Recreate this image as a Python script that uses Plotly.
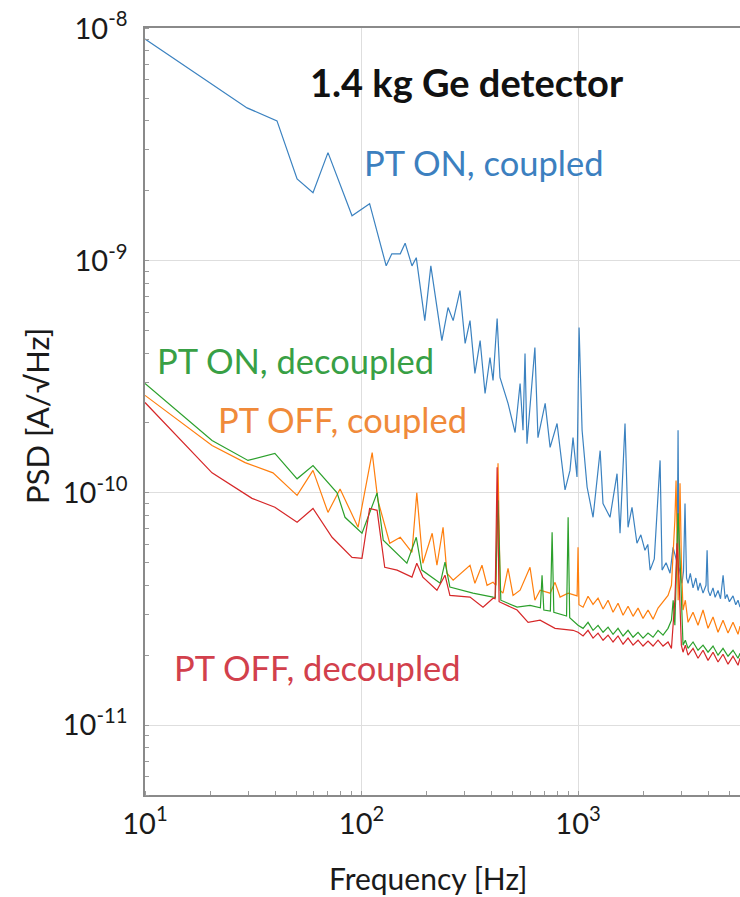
import plotly.graph_objects as go

# ---------------- data ----------------
blue_f = [10, 29.6, 40.7, 50.4, 59.7, 70.0, 90.4, 109, 130, 138, 151, 159, 171, 179, 196, 209,
          235, 251, 265, 285, 301, 317, 334, 353, 372, 392, 405, 423, 436, 475, 512, 540, 557,
          569, 581, 632, 653, 705, 743, 800, 871, 918, 948, 989, 1011, 1044, 1101, 1173, 1265,
          1304, 1405, 1514, 1563, 1648, 1702, 1775, 1871, 1950, 2037, 2100, 2152, 2250, 2393,
          2444, 2550, 2660, 2747, 2870, 2897, 2925, 3021, 3070, 3119, 3170, 3222, 3300, 3397,
          3500, 3582, 3661, 3778, 3900, 3945, 3990, 4074, 4200, 4297, 4431, 4550, 4677, 4780,
          4876, 5000, 5197, 5350, 5481, 5598]
blue_v = [9.0e-9, 4.55e-9, 4.0e-9, 2.25e-9, 1.96e-9, 2.92e-9, 1.56e-9, 1.76e-9, 9.5e-10, 1.07e-9,
          1.07e-9, 1.19e-9, 9.5e-10, 1.03e-9, 5.52e-10, 9.5e-10, 4.53e-10, 6.28e-10, 5.52e-10,
          7.43e-10, 4.40e-10, 5.52e-10, 3.27e-10, 4.53e-10, 2.68e-10, 3.83e-10, 3.05e-10, 5.63e-10,
          3.14e-10, 2.43e-10, 1.82e-10, 2.96e-10, 1.86e-10, 3.98e-10, 1.63e-10, 4.23e-10, 1.73e-10,
          2.43e-10, 1.57e-10, 1.99e-10, 1.03e-10, 1.25e-10, 1.73e-10, 1.17e-10, 5.15e-10, 1.86e-10,
          1.06e-10, 7.85e-11, 1.52e-10, 9.0e-11, 7.85e-11, 1.21e-10, 6.70e-11, 1.99e-10, 7.11e-11,
          8.67e-11, 6.07e-11, 6.6e-11, 5.66e-11, 6.0e-11, 4.65e-11, 5.2e-11, 1.38e-10, 4.65e-11,
          5.0e-11, 4.51e-11, 5.83e-11, 5.0e-11, 1.86e-10, 4.8e-11, 4.08e-11, 4.6e-11, 9.0e-11,
          4.3e-11, 4.08e-11, 4.5e-11, 3.9e-11, 4.3e-11, 3.8e-11, 4.1e-11, 3.7e-11, 4.0e-11,
          5.66e-11, 3.8e-11, 3.6e-11, 3.9e-11, 3.55e-11, 3.8e-11, 3.5e-11, 4.42e-11, 3.5e-11,
          3.65e-11, 3.4e-11, 3.6e-11, 3.3e-11, 3.45e-11, 3.22e-11]

green_f = [10, 20.4, 29.9, 39.8, 50.4, 59.7, 77.1, 83.9, 100.5, 118, 126, 162, 179, 190, 231,
           243, 256, 294, 327, 405, 415, 427, 440, 523, 600, 670, 682, 695, 745, 759, 773, 885,
           900, 915, 1000, 1055, 1112, 1173, 1237, 1305, 1376, 1451, 1530, 1614, 1702, 1795,
           1893, 1996, 2105, 2220, 2341, 2469, 2604, 2700, 2750, 2800, 2897, 2960, 3054, 3130,
           3221, 3397, 3582, 3778, 3984, 4202, 4431, 4673, 4928, 5197, 5481, 5600]
green_v = [2.96e-10, 1.68e-10, 1.38e-10, 1.48e-10, 1.15e-10, 1.31e-10, 1.0e-10, 7.85e-11, 6.70e-11,
           1.0e-10, 6.25e-11, 4.98e-11, 6.44e-11, 4.65e-11, 4.08e-11, 5.03e-11, 3.93e-11, 3.81e-11,
           3.70e-11, 3.56e-11, 3.55e-11, 9.29e-11, 3.45e-11, 3.22e-11, 3.28e-11, 3.2e-11, 4.42e-11,
           3.13e-11, 3.1e-11, 6.76e-11, 3.06e-11, 2.95e-11, 7.85e-11, 2.9e-11, 2.69e-11, 2.61e-11,
           2.77e-11, 2.56e-11, 2.69e-11, 2.51e-11, 2.64e-11, 2.46e-11, 2.61e-11, 2.42e-11, 2.56e-11,
           2.39e-11, 2.51e-11, 2.37e-11, 2.49e-11, 2.39e-11, 2.56e-11, 2.44e-11, 2.61e-11, 2.83e-11,
           3.45e-11, 2.69e-11, 8.17e-11, 5.13e-11, 2.21e-11, 2.32e-11, 2.14e-11, 2.28e-11, 2.10e-11,
           2.21e-11, 2.06e-11, 2.19e-11, 2.00e-11, 2.14e-11, 1.98e-11, 2.10e-11, 1.94e-11, 2.04e-11]

orange_f = [10, 20.4, 29.0, 39.0, 50.4, 59.7, 70.0, 79.6, 96.4, 112, 119, 135, 151, 171, 180, 192,
            212, 223, 238, 248, 265, 317, 334, 360, 380, 405, 418, 427, 437, 450, 475, 501, 540,
            600, 632, 668, 743, 783, 826, 900, 990, 1000, 1010, 1055, 1112, 1173, 1237, 1305, 1376,
            1451, 1530, 1614, 1702, 1795, 1893, 1996, 2105, 2220, 2341, 2469, 2604, 2700, 2746,
            2800, 2836, 2900, 2958, 3000, 3054, 3130, 3221, 3397, 3582, 3778, 3984, 4202, 4431,
            4673, 4928, 5197, 5481, 5600]
orange_v = [2.63e-10, 1.60e-10, 1.35e-10, 1.22e-10, 9.75e-11, 1.25e-10, 8.24e-11, 1.04e-10, 7.11e-11,
            1.49e-10, 9.29e-11, 6.07e-11, 6.44e-11, 5.55e-11, 1.0e-10, 4.98e-11, 6.70e-11, 4.88e-11,
            7.11e-11, 4.51e-11, 4.21e-11, 4.88e-11, 4.08e-11, 4.88e-11, 4.00e-11, 4.12e-11, 4.0e-11,
            1.34e-10, 3.8e-11, 3.70e-11, 4.73e-11, 3.62e-11, 3.81e-11, 4.78e-11, 3.45e-11, 3.81e-11,
            3.70e-11, 4.12e-11, 3.56e-11, 3.70e-11, 3.6e-11, 5.83e-11, 3.3e-11, 3.22e-11, 3.59e-11,
            3.31e-11, 3.52e-11, 3.16e-11, 3.45e-11, 3.06e-11, 3.35e-11, 2.97e-11, 3.25e-11, 2.94e-11,
            3.19e-11, 2.88e-11, 3.13e-11, 2.86e-11, 3.19e-11, 3.38e-11, 3.62e-11, 4.00e-11, 5.13e-11,
            7.62e-11, 1.13e-10, 3.45e-11, 1.10e-10, 5.13e-11, 3.13e-11, 3.45e-11, 2.77e-11, 3.06e-11,
            2.69e-11, 3.13e-11, 2.61e-11, 2.92e-11, 2.51e-11, 2.83e-11, 2.49e-11, 2.77e-11, 2.46e-11,
            2.67e-11]

red_f = [10, 20.4, 31.2, 39.8, 50.4, 59.7, 73.1, 90.4, 100.5, 109, 118, 128, 146, 171, 180, 192,
         223, 243, 256, 317, 364, 405, 414, 423, 432, 446, 523, 588, 668, 783, 948, 1000, 1055,
         1112, 1173, 1237, 1305, 1376, 1451, 1530, 1614, 1702, 1795, 1893, 1996, 2105, 2220,
         2341, 2469, 2604, 2700, 2800, 2864, 2930, 3000, 3054, 3130, 3221, 3397, 3582, 3778,
         3984, 4202, 4431, 4673, 4928, 5197, 5481, 5600]
red_v = [2.45e-10, 1.22e-10, 9.47e-11, 8.67e-11, 7.47e-11, 8.57e-11, 6.44e-11, 5.28e-11, 5.23e-11,
         8.57e-11, 8.41e-11, 4.78e-11, 4.65e-11, 4.34e-11, 4.98e-11, 4.34e-11, 3.81e-11, 4.42e-11,
         3.62e-11, 3.56e-11, 3.22e-11, 3.52e-11, 3.5e-11, 1.29e-10, 3.4e-11, 3.35e-11, 3.13e-11,
         2.77e-11, 2.83e-11, 2.61e-11, 2.56e-11, 2.51e-11, 2.42e-11, 2.56e-11, 2.37e-11, 2.49e-11,
         2.32e-11, 2.44e-11, 2.28e-11, 2.42e-11, 2.23e-11, 2.37e-11, 2.21e-11, 2.32e-11, 2.19e-11,
         2.30e-11, 2.19e-11, 2.32e-11, 2.19e-11, 2.28e-11, 2.14e-11, 3.45e-11, 6.07e-11, 4.21e-11,
         2.21e-11, 2.06e-11, 2.21e-11, 2.00e-11, 2.14e-11, 1.94e-11, 2.10e-11, 1.90e-11, 2.06e-11,
         1.87e-11, 2.02e-11, 1.83e-11, 1.98e-11, 1.81e-11, 1.94e-11]

series_names = ["PT ON, coupled", "PT ON, decoupled", "PT OFF, coupled", "PT OFF, decoupled"]
title_text = "1.4 kg Ge detector"
x_title = "Frequency [Hz]"
y_title = "PSD [A/\u221aHz]"
x_tickvals = [10, 100, 1000]
x_ticktext = ["10<sup>1</sup>", "10<sup>2</sup>", "10<sup>3</sup>"]
y_tickvals = [1e-11, 1e-10, 1e-9, 1e-8]
y_ticktext = ["10<sup>-11</sup>", "10<sup>-10</sup>", "10<sup>-9</sup>", "10<sup>-8</sup>"]

# ---------------- styling ----------------
FONT = "Lato"
C_BLUE, C_GREEN, C_ORANGE, C_RED = "#3b82c0", "#2ca02c", "#ff7f0e", "#d62728"
W, H = 740, 897
L, R, T, B = 145, 0, 28, 102
PW, PH = W - L - R, H - T - B


def px(xp):
    return (xp - L) / PW


def py(yp):
    return (H - B - yp) / PH


fig = go.Figure()
for f, v, c, n in [(blue_f, blue_v, C_BLUE, series_names[0]),
                   (orange_f, orange_v, C_ORANGE, series_names[2]),
                   (green_f, green_v, C_GREEN, series_names[1]),
                   (red_f, red_v, C_RED, series_names[3])]:
    fig.add_trace(go.Scatter(x=f, y=v, mode="lines", name=n,
                             line=dict(color=c, width=1.2)))

axis_common = dict(
    type="log", showline=True, linecolor="#8a8a8a", linewidth=1.5,
    showgrid=True, gridcolor="#dedede", gridwidth=1, zeroline=False,
    ticks="", tickmode="array",
    tickfont=dict(family=FONT, size=29, color="#1a1a1a"),
    minor=dict(ticks="inside", ticklen=4, tickcolor="#9a9a9a", showgrid=False, dtick="D1"),
)

fig.update_xaxes(range=[1, 3.748], mirror=True, ticklabelstandoff=2,
                 tickvals=x_tickvals, ticktext=x_ticktext, **axis_common)
fig.update_yaxes(range=[-11.301, -7.998], mirror=False, ticklabelstandoff=10,
                 tickvals=y_tickvals, ticktext=y_ticktext, **axis_common)

ann = []
ann.append(dict(text=f"<b>{title_text}</b>", x=px(467), y=py(82),
                font=dict(family=FONT, size=38, color="#111111")))
ann.append(dict(text=series_names[0], x=px(483), y=py(163),
                font=dict(family=FONT, size=34.5, color="#3c80bf")))
ann.append(dict(text=series_names[1], x=px(295), y=py(360),
                font=dict(family=FONT, size=34.5, color="#38a045")))
ann.append(dict(text=series_names[2], x=px(342), y=py(420),
                font=dict(family=FONT, size=34.5, color="#f08a3a")))
ann.append(dict(text=series_names[3], x=px(317), y=py(667),
                font=dict(family=FONT, size=34.5, color="#d2404c")))
ann.append(dict(text=x_title, x=px(428), y=py(878),
                font=dict(family=FONT, size=30, color="#1a1a1a")))
ann.append(dict(text=y_title, x=px(37), y=py(416), textangle=-90,
                font=dict(family=FONT, size=31, color="#1a1a1a")))
for a in ann:
    a.update(xref="paper", yref="paper", showarrow=False, xanchor="center", yanchor="middle")

fig.update_layout(
    width=W, height=H, margin=dict(l=L, r=R, t=T, b=B, pad=0),
    paper_bgcolor="white", plot_bgcolor="white", showlegend=False,
    annotations=ann,
)

fig.write_html("out.html", config={"displayModeBar": False},
               post_script="document.body.style.margin='0px';")
